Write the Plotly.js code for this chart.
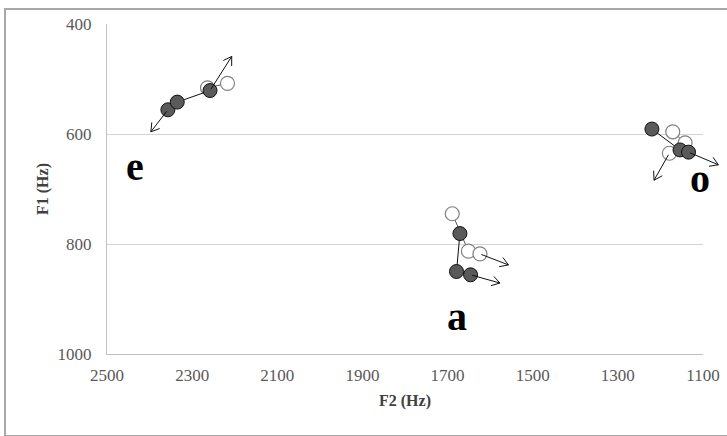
<!DOCTYPE html>
<html>
<head>
<meta charset="utf-8">
<script src="https://cdn.plot.ly/plotly-3.0.1.min.js"></script>
<style>
  html, body { margin: 0; padding: 0; background: #fff; overflow: hidden; }
  #wrap { position: relative; width: 727px; height: 436px; overflow: hidden; }
  #chart { width: 727px; height: 436px; }
  #frame { position: absolute; left: 4px; top: 8px; width: 760px; height: 425px;
           border: 2px solid #a8a8a8; pointer-events: none; }
</style>
</head>
<body>
<div id="wrap"><div id="chart"></div><div id="frame"></div></div>
<script>
// ---- data (F2, F1 in Hz) ----
const eFilledF2 = [2357, 2335, 2258];
const eFilledF1 = [556, 542, 521];
const eOpenF2 = [2264, 2217];
const eOpenF1 = [516, 508];

const aFilledF2 = [1671, 1679, 1646];
const aFilledF1 = [781, 850, 856];
const aOpenF2 = [1689, 1651, 1624];
const aOpenF1 = [745, 813, 818];

const oFilledF2 = [1220, 1154, 1134];
const oFilledF1 = [591, 629, 633];
const oOpenF2 = [1171, 1142, 1179];
const oOpenF1 = [596, 616, 635];

// arrows: from (F2,F1) to tip (F2,F1)
const arrowFromF2 = [2357, 2258, 1624, 1646, 1134, 1179];
const arrowFromF1 = [556, 521, 818, 856, 633, 635];
const arrowToF2 = [2397, 2207, 1557, 1577, 1064, 1215];
const arrowToF1 = [596, 459, 838, 871, 656, 684];

// vowel labels
const vowelLabels = ['e', 'a', 'o'];
const vowelF2 = [2434, 1679, 1107];
const vowelF1 = [659, 932, 680];

const xTicks = [2500, 2300, 2100, 1900, 1700, 1500, 1300, 1100];
const yTicks = [400, 600, 800, 1000];

// ---- layout geometry ----
const W = 727, H = 436;
const M = { l: 107, r: 24, t: 24, b: 82 };
const xRange = [2500, 1100];
const yRange = [1000, 400];
const PW = W - M.l - M.r, PH = H - M.t - M.b;
const kx = PW / (xRange[1] - xRange[0]);    // screen px per Hz (signed)
const ky = -PH / (yRange[1] - yRange[0]);   // screen px per Hz (down positive)
// data -> paper fractions (so arrows reaching past the axis end are still drawn)
const fx = v => (v - xRange[0]) / (xRange[1] - xRange[0]);
const fy = v => (v - yRange[0]) / (yRange[1] - yRange[0]);

const filledMarker = { size: 14, color: '#5a5a5a', line: { color: '#111', width: 1 } };
const openMarker = { size: 14, color: '#ffffff', line: { color: '#808080', width: 1.2 } };

function series(x, y, marker, lineColor) {
  return { type: 'scatter', mode: 'lines+markers', x: x, y: y, marker: marker,
           line: { color: lineColor, width: 1 }, hoverinfo: 'skip', showlegend: false, cliponaxis: false };
}

const traces = [
  series(eOpenF2, eOpenF1, openMarker, '#555'),
  series(aOpenF2, aOpenF1, openMarker, '#555'),
  series(oOpenF2, oOpenF1, openMarker, '#555'),
  series(eFilledF2, eFilledF1, filledMarker, '#111'),
  series(aFilledF2, aFilledF1, filledMarker, '#111'),
  series(oFilledF2, oFilledF1, filledMarker, '#111'),
];

function seg(x0, y0, x1, y1) {
  return { xref: 'paper', yref: 'paper', axref: 'paper', ayref: 'paper',
           x: fx(x1), y: fy(y1), ax: fx(x0), ay: fy(y0),
           text: '', showarrow: true, arrowhead: 0, arrowwidth: 1, arrowcolor: '#111',
           standoff: 0, startstandoff: 0 };
}

const annotations = [];
for (let i = 0; i < arrowFromF2.length; i++) {
  annotations.push(seg(arrowFromF2[i], arrowFromF1[i], arrowToF2[i], arrowToF1[i]));
  // open V head computed in screen space
  const sdx = (arrowToF2[i] - arrowFromF2[i]) * kx;
  const sdy = (arrowToF1[i] - arrowFromF1[i]) * ky;
  const len = Math.hypot(sdx, sdy);
  const ux = sdx / len, uy = sdy / len;
  const L = 11, ang = 32 * Math.PI / 180;
  [ang, -ang].forEach(a => {
    const rx = ux * Math.cos(a) - uy * Math.sin(a);
    const ry = ux * Math.sin(a) + uy * Math.cos(a);
    const wx = arrowToF2[i] - (L * rx) / kx;
    const wy = arrowToF1[i] - (L * ry) / ky;
    annotations.push(seg(wx, wy, arrowToF2[i], arrowToF1[i]));
  });
}
for (let i = 0; i < vowelLabels.length; i++) {
  annotations.push({ xref: 'x', yref: 'y', x: vowelF2[i], y: vowelF1[i], text: '<b>' + vowelLabels[i] + '</b>',
    showarrow: false, font: { family: 'Liberation Serif, Times New Roman, serif', size: 40, color: '#000' } });
}

const layout = {
  width: W, height: H,
  margin: M,
  paper_bgcolor: '#fff', plot_bgcolor: '#fff',
  font: { family: 'Liberation Serif, Times New Roman, serif', color: '#595959' },
  showlegend: false,
  xaxis: {
    range: xRange, tickmode: 'array', tickvals: xTicks, ticktext: xTicks.map(String),
    showgrid: false, zeroline: false, showline: true, linecolor: '#c0c0c0', linewidth: 1,
    ticks: '', ticklabelstandoff: 6, tickfont: { size: 17, color: '#595959' },
    title: { text: '<b>F2 (Hz)</b>', font: { size: 16, color: '#404040' }, standoff: 10 }
  },
  yaxis: {
    range: yRange, tickmode: 'array', tickvals: yTicks, ticktext: yTicks.map(String),
    showgrid: true, gridcolor: '#d4d4d4', gridwidth: 1, zeroline: false,
    showline: true, linecolor: '#c0c0c0', linewidth: 1,
    ticks: '', ticklabelstandoff: 11, tickfont: { size: 17, color: '#595959' },
    title: { text: '<b>F1 (Hz)</b>', font: { size: 16, color: '#404040' }, standoff: 4 }
  },
  annotations: annotations
};

Plotly.newPlot('chart', traces, layout, { displayModeBar: false, staticPlot: true });
</script>
</body>
</html>
